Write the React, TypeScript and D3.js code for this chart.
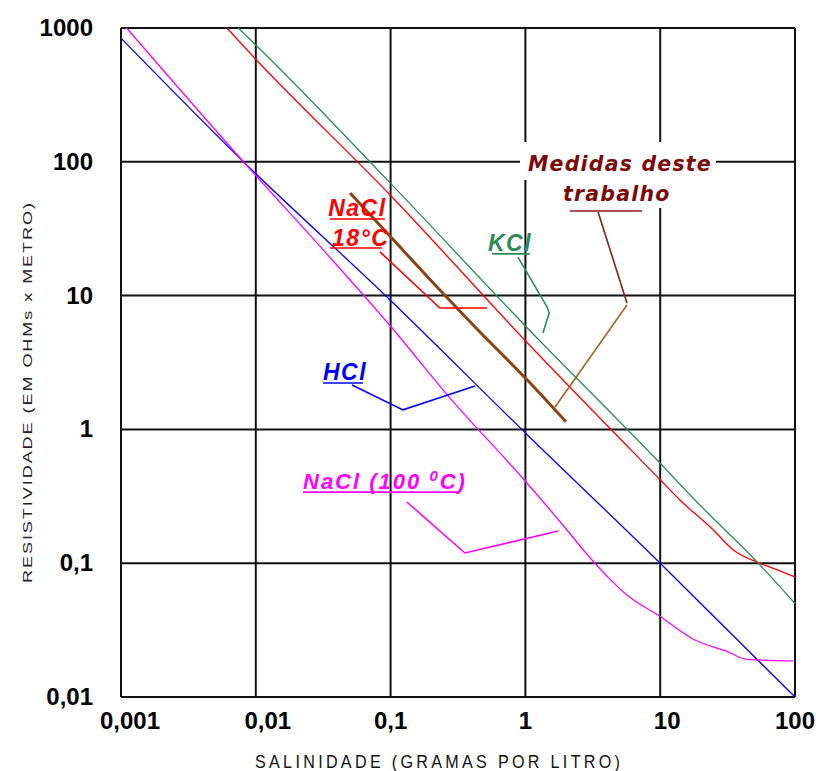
import React, { useEffect, useRef } from 'react'
import * as d3 from 'd3'

// axes
const xTicks = [0.001, 0.01, 0.1, 1, 10, 100]
const xTickLabels = ['0,001', '0,01', '0,1', '1', '10', '100']
const yTicks = [0.01, 0.1, 1, 10, 100, 1000]
const yTickLabels = ['0,01', '0,1', '1', '10', '100', '1000']

// HCl (blue)
const hclX = [0.001, 0.0081, 0.1, 1, 10, 100]
const hclY = [840, 100, 9.2, 0.94, 0.1, 0.01]

// NaCl 100 C (magenta)
const nacl100X = [0.0011, 0.0081, 0.036, 0.1, 0.27, 1, 1.81, 3.19, 4.24, 5.64, 10, 17.6, 31, 44, 97]
const nacl100Y = [1000, 100, 19, 5.9, 1.76, 0.41, 0.204, 0.103, 0.076, 0.058, 0.04, 0.027, 0.022, 0.0191, 0.0186]

// NaCl 18 C (red)
const nacl18X = [0.0061, 0.01, 0.1, 1, 10, 14, 24.8, 34.9, 55, 69, 100]
const nacl18Y = [1000, 584, 56, 4.6, 0.42, 0.297, 0.177, 0.1255, 0.0998, 0.0916, 0.079]

// KCl (green)
const kclX = [0.0074, 0.01, 0.1, 1, 10, 18.1, 55, 100]
const kclY = [1000, 747, 69, 5.93, 0.558, 0.297, 0.097, 0.05]

// Medidas deste trabalho (brown)
const medX = [0.05, 0.102, 0.221, 0.46, 1.0, 2.0]
const medY = [58.5, 26.9, 11.6, 5.35, 2.42, 1.14]

// annotation leaders (data coords)
const naclLeaderX = [0.0834, 0.232, 0.519]
const naclLeaderY = [21.2, 8.07, 8.07]
const kclLeaderX = [0.881, 1.45, 1.5, 1.35]
const kclLeaderY = [19.4, 8.22, 7.41, 5.25]
const hclLeaderX = [0.0517, 0.1236, 0.423]
const hclLeaderY = [2.15, 1.4, 2.11]
const nacl100LeaderX = [0.132, 0.356, 1.75]
const nacl100LeaderY = [0.2867, 0.1192, 0.174]
const medLeaderX = [3.46, 5.67]
const medLeaderY = [42.2, 8.81]
const medLeader2X = [5.67, 1.66]
const medLeader2Y = [8.51, 1.47]

const W = 816
const H = 771

const zip = (xs: number[], ys: number[]): [number, number][] => xs.map((v, i) => [v, ys[i]])

const App = () => {
    const Chart = useRef<SVGSVGElement>(null)

    useEffect(() => {
        document.body.style.margin = '0'
        const svg = d3.select(Chart.current)
        svg.selectAll('*').remove()

        const x = d3.scaleLog().domain([0.001, 100]).range([121, 795])
        const y = d3.scaleLog().domain([0.01, 1000]).range([697, 28])

        const curve = d3.line<[number, number]>()
            .x(d => x(d[0]))
            .y(d => y(d[1]))
            .curve(d3.curveMonotoneX)
        const poly = d3.line<[number, number]>()
            .x(d => x(d[0]))
            .y(d => y(d[1]))

        //grid
        const grid = svg.append('g').attr('stroke', '#111').attr('stroke-width', 2)
        grid.selectAll('line.v')
            .data(xTicks)
            .join('line')
            .attr('x1', d => x(d)).attr('x2', d => x(d))
            .attr('y1', y(1000)).attr('y2', y(0.01))
        grid.selectAll('line.h')
            .data(yTicks)
            .join('line')
            .attr('y1', d => y(d)).attr('y2', d => y(d))
            .attr('x1', x(0.001)).attr('x2', x(100))

        //white boxes behind the "Medidas" label
        const boxes = [[0.912, 25.9, 140.6, 73.1], [1.75, 13.1, 75.7, 45.1]]
        svg.append('g')
            .selectAll('rect')
            .data(boxes)
            .join('rect')
            .attr('x', d => x(d[0]))
            .attr('width', d => x(d[1]) - x(d[0]))
            .attr('y', d => y(d[2]))
            .attr('height', d => y(d[3]) - y(d[2]))
            .attr('fill', 'white')

        //tick labels
        svg.append('g')
            .selectAll('text')
            .data(yTicks)
            .join('text')
            .text((d, i) => yTickLabels[i])
            .attr('x', 93)
            .attr('y', d => y(d) + 8)
            .attr('text-anchor', 'end')
            .style('font', 'bold 24px "Liberation Sans", Arial, sans-serif')
        const nudge = [9, 12, 0, 0, 7, 0]
        svg.append('g')
            .selectAll('text')
            .data(xTicks)
            .join('text')
            .text((d, i) => xTickLabels[i])
            .attr('x', (d, i) => x(d) + nudge[i])
            .attr('y', 729)
            .attr('text-anchor', 'middle')
            .style('font', 'bold 24px "Liberation Sans", Arial, sans-serif')

        //axis titles
        svg.append('text')
            .text('SALINIDADE (GRAMAS POR LITRO)')
            .attr('transform', 'translate(255,768) scale(0.85,1)')
            .attr('textLength', 365 / 0.85).attr('lengthAdjust', 'spacing')
            .style('font', '19px "Liberation Sans", Arial, sans-serif')
            .attr('fill', '#111')
        svg.append('text')
            .text('RESISTIVIDADE (EM OHMs x METRO)')
            .attr('transform', 'translate(32,583) rotate(-90) scale(1,0.72)')
            .attr('textLength', 380).attr('lengthAdjust', 'spacing')
            .style('font', '18px "Liberation Sans", Arial, sans-serif')
            .attr('fill', '#222')

        //series
        const series = [
            { pts: zip(hclX, hclY), color: '#0000ff', w: 1.3 },
            { pts: zip(nacl100X, nacl100Y), color: '#ff00ff', w: 1.3 },
            { pts: zip(nacl18X, nacl18Y), color: '#ff0000', w: 1.3 },
            { pts: zip(kclX, kclY), color: '#2e8b57', w: 1.3 },
            { pts: zip(medX, medY), color: '#8b4513', w: 3 },
        ]
        svg.append('g')
            .selectAll('path')
            .data(series)
            .join('path')
            .attr('d', d => curve(d.pts))
            .attr('fill', 'none')
            .attr('stroke', d => d.color)
            .attr('stroke-width', d => d.w)

        //leaders
        const leaders = [
            { pts: zip(naclLeaderX, naclLeaderY), color: '#ff0000' },
            { pts: zip(kclLeaderX, kclLeaderY), color: '#2e8b57' },
            { pts: zip(hclLeaderX, hclLeaderY), color: '#0000ff' },
            { pts: zip(nacl100LeaderX, nacl100LeaderY), color: '#ff00ff' },
            { pts: zip(medLeaderX, medLeaderY), color: '#8b1a1a' },
            { pts: zip(medLeader2X, medLeader2Y), color: '#a0652a' },
            // underlines
            { pts: zip([0.0355, 0.0907], [37.4, 37.4]), color: '#ff0000' },
            { pts: zip([0.0355, 0.0863], [22.7, 22.7]), color: '#ff0000' },
            { pts: zip([0.565, 1.08], [20.5, 20.5]), color: '#2e8b57' },
            { pts: zip([0.0315, 0.0624], [2.22, 2.22]), color: '#0000ff' },
            { pts: zip([0.0224, 0.327], [0.34, 0.34]), color: '#ff00ff' },
            { pts: zip([2.14, 7.33], [42.9, 42.9]), color: '#8b1a1a' },
        ]
        svg.append('g')
            .selectAll('path')
            .data(leaders)
            .join('path')
            .attr('d', d => poly(d.pts))
            .attr('fill', 'none')
            .attr('stroke', d => d.color)
            .attr('stroke-width', 1.6)

        //labels
        const arial = '"Liberation Sans", Arial, sans-serif'
        const labels = [
            { t: 'NaCl', px: 0.0344, py: 39.4, color: '#ff0000', size: 23 },
            { t: '18°C', px: 0.0367, py: 23.5, color: '#ff0000', size: 23 },
            { t: 'KCl', px: 0.528, py: 21.5, color: '#2e8b57', size: 23 },
            { t: 'HCl', px: 0.0315, py: 2.34, color: '#0000ff', size: 23 },
        ]
        svg.append('g')
            .selectAll('text')
            .data(labels)
            .join('text')
            .text(d => d.t)
            .attr('x', d => x(d.px))
            .attr('y', d => y(d.py))
            .attr('fill', d => d.color)
            .style('font', d => `italic bold ${d.size}px ${arial}`)
            .style('letter-spacing', '1.5px')

        const n100 = svg.append('text')
            .attr('x', x(0.0224))
            .attr('y', y(0.359))
            .attr('fill', '#ff00ff')
            .style('font', `italic bold 22px ${arial}`)
            .style('letter-spacing', '2px')
        n100.append('tspan').text('NaCl (100 ')
        n100.append('tspan').text('0').attr('dy', -8).style('font-size', '15px')
        n100.append('tspan').text('C)').attr('dy', 8)

        const dejavu = '"DejaVu Sans", Verdana, sans-serif'
        svg.append('text')
            .text('Medidas deste')
            .attr('x', x(1.045)).attr('y', y(85.3))
            .attr('fill', '#7b0a0a')
            .style('font', `italic bold 20.5px ${dejavu}`)
            .style('letter-spacing', '1.2px')
        svg.append('text')
            .text('trabalho')
            .attr('x', x(1.9)).attr('y', y(50.9))
            .attr('fill', '#7b0a0a')
            .style('font', `italic bold 20.5px ${dejavu}`)
            .style('letter-spacing', '1.2px')
    })

    return (
        <div>
            <svg ref={Chart} width={W} height={H} style={{ display: 'block', background: 'white' }}></svg>
        </div>
    )
}
export default App
